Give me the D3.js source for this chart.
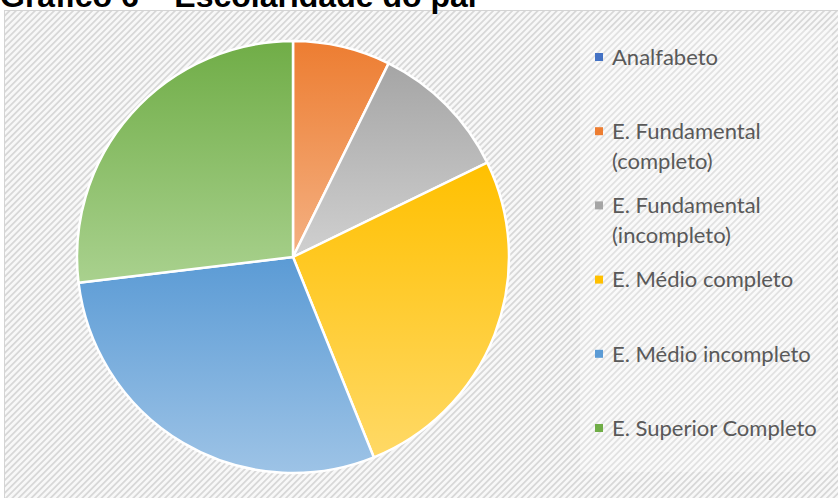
<!DOCTYPE html>
<html><head><meta charset="utf-8">
<script src="https://cdn.jsdelivr.net/npm/d3@7"></script>
<style>body{margin:0;background:#fff;}svg{display:block;}</style>
</head><body>
<script>
const categories = ["Analfabeto","E. Fundamental (completo)","E. Fundamental (incompleto)","E. Médio completo","E. Médio incompleto","E. Superior Completo"];
const legendLines = [["Analfabeto"],["E. Fundamental","(completo)"],["E. Fundamental","(incompleto)"],["E. Médio completo"],["E. Médio incompleto"],["E. Superior Completo"]];
const values = [0, 7.3, 10.5, 26.1, 29.2, 26.9];
const colors = ["#4472C4","#ED7D31","#A5A5A5","#FFC000","#5B9BD5","#70AD47"];
const lightColors = ["#8FAADC","#F4B183","#D0D0D0","#FFD966","#9DC3E6","#A9D18E"];
const title = "Gráfico 6 – Escolaridade do pai";

const W = 838, H = 498;
const svg = d3.select("body").append("svg").attr("width", W).attr("height", H);
const defs = svg.append("defs");

const pat = defs.append("pattern").attr("id","stripes").attr("patternUnits","userSpaceOnUse")
  .attr("width",4.5).attr("height",4.5).attr("patternTransform","rotate(-45)");
pat.append("rect").attr("width",4.5).attr("height",4.5).attr("fill","#f8f8f8");
pat.append("rect").attr("width",4.5).attr("height",1.8).attr("fill","#d8d8d8");

colors.forEach((c,i)=>{
  const g = defs.append("linearGradient").attr("id","grad"+i).attr("x1",0).attr("y1",0).attr("x2",0).attr("y2",1);
  g.append("stop").attr("offset","0%").attr("stop-color",c);
  g.append("stop").attr("offset","100%").attr("stop-color",lightColors[i]);
});

// frame
svg.append("rect").attr("x",4.5).attr("y",10.5).attr("width",W).attr("height",H)
  .attr("fill","url(#stripes)").attr("stroke","#d4d4d4").attr("stroke-width",1);
// legend box (slightly lighter)
svg.append("rect").attr("x",580).attr("y",30).attr("width",252).attr("height",442)
  .attr("fill","#ffffff").attr("opacity",0.25);

// title
svg.append("text").attr("x",0).attr("y",7).attr("font-family","'Liberation Sans', Arial, sans-serif")
  .attr("font-weight","bold").attr("font-size",32).attr("fill","#000").text(title);

// pie
const cx = 293, cy = 257, r = 216;
const pie = d3.pie().sort(null).value(d=>d)(values);
const arc = d3.arc().innerRadius(0).outerRadius(r);
const pg = svg.append("g").attr("transform",`translate(${cx},${cy})`);
pg.selectAll("path").data(pie).enter().append("path")
  .attr("d",arc).attr("fill",(d,i)=>"url(#grad"+i+")")
  .attr("stroke","#fff").attr("stroke-width",2.5).attr("stroke-linejoin","round");

// legend
const ly = d3.scaleLinear().domain([0,5]).range([57,428]);
const lg = svg.append("g");
legendLines.forEach((lines,i)=>{
  const y = ly(i);
  lg.append("rect").attr("x",595).attr("y",y-4).attr("width",8).attr("height",8).attr("fill",colors[i]);
  lines.forEach((t,j)=>{
    lg.append("text").attr("x",612).attr("y",y + j*30).attr("dy","0.35em")
      .attr("font-family","Lato, 'Open Sans', sans-serif").attr("font-size",22).attr("fill","#595959").text(t);
  });
});
</script>
</body></html>
